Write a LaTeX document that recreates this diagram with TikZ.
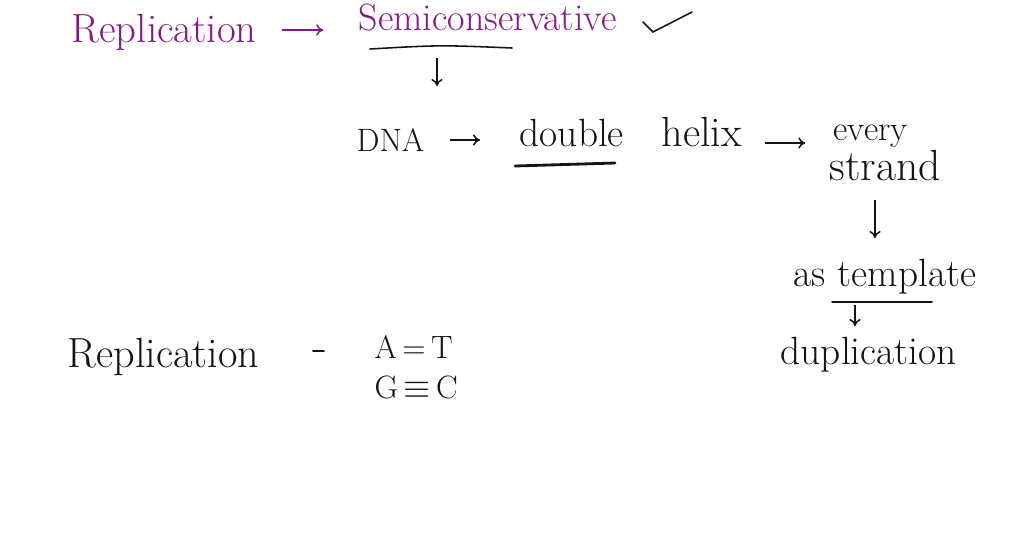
\documentclass[tikz,border=0pt]{standalone}
\usetikzlibrary{arrows.meta}
\definecolor{ink}{RGB}{135,25,135}
\definecolor{pen}{RGB}{20,20,20}
\begin{document}
\begin{tikzpicture}[x=0.025cm,y=-0.025cm,
  txt/.style={inner sep=1pt, anchor=base west, text=pen, font=\fontsize{28}{32}\selectfont},
  small/.style={txt, font=\fontsize{23}{26}\selectfont},
  arr/.style={draw=pen, line width=1.1pt, -{To[length=5pt,width=8pt]}},
  ln/.style={draw=pen, line width=1.1pt, line cap=round}]
\fill[white] (0,0) rectangle (1024,554);
\useasboundingbox (0,0) rectangle (1024,554);

% top line (purple)
\node[txt, text=ink, font=\fontsize{29}{32}\selectfont] (rep1) at (70,42) {Replication};
\node[txt, text=ink, font=\fontsize{27}{30}\selectfont] (semi) at (357,30) {Semiconservative};
\draw[arr, draw=ink, shorten <=17pt, shorten >=24pt] (rep1.east |- 0,30) -- (semi.west |- 0,30);
% check mark
\coordinate (c1) at (643,22);
\coordinate (c2) at (653,32);
\coordinate (c3) at (692,12);
\draw[ln] (c1) -- (c2) -- (c3);
% underline and down arrow
\coordinate (u1) at (370,49);
\coordinate (u2) at (512,48);
\draw[ln] (u1) .. controls (440,45) .. (u2);
\coordinate (d1) at (437,58);
\coordinate (d2) at (437,86);
\draw[arr] (d1) -- (d2);

% DNA line
\node[small] (dna) at (355,151) {DNA};
\node[txt] (dbl) at (518,146) {double};
\node[txt, font=\fontsize{30}{34}\selectfont] (hel) at (660,146) {helix};
\node[txt, font=\fontsize{25}{28}\selectfont] (every) at (832,140) {every};
\node[txt, font=\fontsize{31}{34}\selectfont] (strand) at (828,180) {strand};
\draw[arr, shorten <=17pt, shorten >=27pt] (dna.east |- 0,140) -- (dbl.west |- 0,140);
\draw[arr, shorten <=15pt, shorten >=19pt] (hel.east |- 0,143) -- (every.west |- 0,143);
\coordinate (du1) at (515,166);
\coordinate (du2) at (615,163);
\draw[ln, line width=2pt] (du1) -- (du2);

% right column
\node[txt] (tmpl) at (792,286) {as template};
\node[txt] (dup) at (779,364) {duplication};
\draw[arr] (875,200) coordinate (s1) -- (875,238) coordinate (s2);
\coordinate (t1) at (832,302);
\coordinate (t2) at (932,302);
\draw[ln] (t1) -- (t2);
\coordinate (t3) at (855,305);
\coordinate (t4) at (855,326);
\draw[arr] (t3) -- (t4);

% bottom left
\node[txt, font=\fontsize{30}{34}\selectfont] (rep2) at (66,367) {Replication};
\coordinate (h1) at (313,351);
\coordinate (h2) at (324,351);
\draw[ln] (h1) -- (h2);
\node[small] (at) at (373,358) {A\,=\,T};
\node[small] (gc) at (373,398) {G\,$\equiv$\,C};
\end{tikzpicture}
\end{document}
